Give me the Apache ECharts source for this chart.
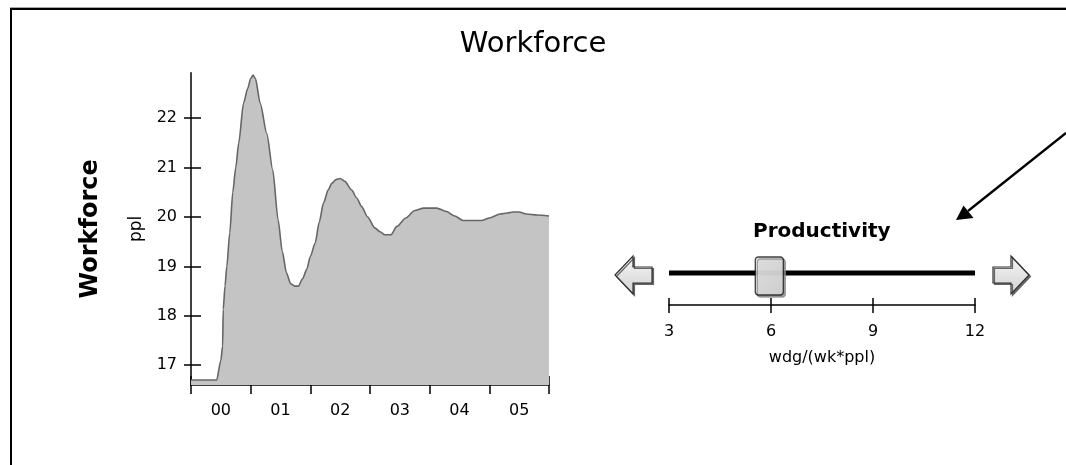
<!DOCTYPE html>
<html>
<head>
<meta charset="utf-8">
<script src="https://cdn.jsdelivr.net/npm/echarts@6.0.0/dist/echarts.min.js"></script>
<style>
  html, body { margin: 0; padding: 0; background: #fff; }
  #chart { width: 1066px; height: 465px; }
</style>
</head>
<body>
<div id="chart"></div>
<script>
// time in months (x) and workforce in people (y)
const months = [0, 0.43, 0.5, 0.53, 0.54, 0.57, 0.6, 0.65, 0.7, 0.75,
  0.8, 0.88, 0.95, 1.0, 1.04, 1.08, 1.16, 1.27, 1.37, 1.46,
  1.53, 1.6, 1.67, 1.74, 1.8, 1.87, 1.94, 2.0, 2.08, 2.15,
  2.22, 2.3, 2.36, 2.43, 2.5, 2.58, 2.69, 2.78, 2.86, 2.96,
  3.08, 3.17, 3.25, 3.35, 3.45, 3.6, 3.75, 3.9, 4.0, 4.12,
  4.28, 4.42, 4.56, 4.7, 4.87, 5.0, 5.18, 5.3, 5.4, 5.5,
  5.62, 5.8, 6.0];
const workforce = [16.70, 16.70, 17.1, 17.39, 18.13, 18.6, 19.0, 19.68, 20.5, 21.0,
  21.5, 22.3, 22.6, 22.8, 22.87, 22.8, 22.3, 21.69, 20.95, 19.94,
  19.3, 18.87, 18.65, 18.60, 18.60, 18.75, 18.94, 19.2, 19.47, 19.9,
  20.28, 20.55, 20.68, 20.76, 20.78, 20.72, 20.55, 20.38, 20.21, 20.0,
  19.78, 19.7, 19.64, 19.64, 19.81, 19.98, 20.13, 20.18, 20.18, 20.18,
  20.11, 20.02, 19.93, 19.93, 19.93, 19.98, 20.06, 20.08, 20.10, 20.10,
  20.06, 20.04, 20.02];
const periodLabels = ['00', '01', '02', '03', '04', '05'];
const yTicks = [17, 18, 19, 20, 21, 22];
// slider
const sliderTicks = [3, 6, 9, 12];
const productivity = 5.95;

const FONT = 'DejaVu Sans';
const chart = echarts.init(document.getElementById('chart'));

const arrowFill = new echarts.graphic.LinearGradient(0, 0, 0, 1, [
  { offset: 0, color: '#f6f6f6' },
  { offset: 1, color: '#d2d2d2' }
]);
const arrowStyle = {
  fill: arrowFill, stroke: '#333', lineWidth: 1.2,
  shadowColor: '#666', shadowOffsetX: 1.5, shadowOffsetY: 1.5, shadowBlur: 0
};

const option = {
  animation: false,
  backgroundColor: '#fff',
  title: [
    {
      text: 'Workforce', left: 'center', top: 30, padding: 0,
      textStyle: { fontFamily: FONT, fontSize: 29, fontWeight: 'normal', color: '#000' }
    },
    {
      text: 'Productivity', left: 753, top: 222, padding: 0,
      textStyle: { fontFamily: FONT, fontSize: 20, fontWeight: 'bold', color: '#000' }
    }
  ],
  grid: [
    { left: 191, top: 72.7, width: 358, height: 312.3 },
    { left: 669, top: 241, width: 306, height: 64 }
  ],
  xAxis: [
    {
      gridIndex: 0, type: 'value', position: 'bottom', min: 0, max: 6, interval: 1,
      axisLine: { onZero: false, lineStyle: { color: '#000', width: 1.5 } },
      axisTick: { length: 9, lineStyle: { color: '#000', width: 1.5 } },
      axisLabel: {
        customValues: [0.5, 1.5, 2.5, 3.5, 4.5, 5.5],
        formatter: v => periodLabels[Math.floor(v)],
        margin: 18, color: '#000', fontFamily: FONT, fontSize: 16
      },
      splitLine: { show: false }
    },
    {
      gridIndex: 0, type: 'value', position: 'bottom', min: 0, max: 6, interval: 1,
      axisLine: { show: false },
      axisTick: { inside: true, length: 9, lineStyle: { color: '#000', width: 1.5 } },
      axisLabel: { show: false },
      splitLine: { show: false }
    },
    {
      gridIndex: 1, type: 'value', position: 'bottom', min: 3, max: 12, interval: 3,
      axisLine: { onZero: false, lineStyle: { color: '#000', width: 1.5 } },
      axisTick: { length: 8, lineStyle: { color: '#000', width: 1.5 } },
      axisLabel: { margin: 19, color: '#000', fontFamily: FONT, fontSize: 16 },
      splitLine: { show: false },
      name: 'wdg/(wk*ppl)', nameLocation: 'middle', nameGap: 45,
      nameTextStyle: { color: '#000', fontFamily: FONT, fontSize: 16 }
    },
    {
      gridIndex: 1, type: 'value', position: 'bottom', min: 3, max: 12, interval: 3,
      axisLine: { show: false },
      axisTick: { inside: true, length: 7, lineStyle: { color: '#000', width: 1.5 } },
      axisLabel: { show: false },
      splitLine: { show: false }
    }
  ],
  yAxis: [
    {
      gridIndex: 0, type: 'value', position: 'left', min: 16.6, max: 22.92,
      axisLine: { show: true, onZero: false, lineStyle: { color: '#000', width: 1.5 } },
      axisTick: { show: true, customValues: yTicks, length: 7, lineStyle: { color: '#000', width: 1.5 } },
      axisLabel: { customValues: yTicks, margin: 14, color: '#000', fontFamily: FONT, fontSize: 16 },
      splitLine: { show: false },
      name: 'Workforce', nameLocation: 'middle', nameGap: 88, nameRotate: 90,
      nameTextStyle: { color: '#000', fontFamily: FONT, fontSize: 24, fontWeight: 'bold' }
    },
    {
      gridIndex: 0, type: 'value', position: 'left', min: 16.6, max: 22.92,
      axisLine: { show: false },
      axisTick: { show: true, inside: true, customValues: yTicks, length: 10, lineStyle: { color: '#000', width: 1.5 } },
      axisLabel: { show: false },
      splitLine: { show: false },
      name: 'ppl', nameLocation: 'middle', nameGap: 46, nameRotate: 90,
      nameTextStyle: { color: '#000', fontFamily: FONT, fontSize: 17 }
    },
    {
      gridIndex: 1, type: 'value', min: 0, max: 1, show: false
    }
  ],
  series: [
    {
      name: 'Workforce', type: 'line', xAxisIndex: 0, yAxisIndex: 0,
      data: months.map((m, i) => [m, workforce[i]]),
      showSymbol: false, symbol: 'none',
      smooth: 0.25, smoothMonotone: 'x',
      lineStyle: { color: '#666', width: 1.6 },
      areaStyle: { color: '#c4c4c4', opacity: 1, origin: 'start' },
      z: 1
    },
    {
      name: 'track', type: 'line', xAxisIndex: 2, yAxisIndex: 2,
      data: [[sliderTicks[0], 0.5], [sliderTicks[sliderTicks.length - 1], 0.5]],
      symbol: 'none', lineStyle: { color: '#000', width: 5 }, z: 2
    },
    {
      name: 'Productivity', type: 'scatter', xAxisIndex: 2, yAxisIndex: 2,
      data: [[productivity, 0.5]],
      symbol: 'path://M3,0 H25 A3,3 0 0 1 28,3 V35 A3,3 0 0 1 25,38 H3 A3,3 0 0 1 0,35 V3 A3,3 0 0 1 3,0 Z',
      symbolSize: [28, 38], symbolOffset: [0, 3], symbolKeepAspect: false,
      itemStyle: {
        color: new echarts.graphic.LinearGradient(0, 0, 1, 1, [
          { offset: 0, color: '#eeeeee' },
          { offset: 1, color: '#d8d8d8' }
        ]),
        borderColor: '#111', borderWidth: 1.5,
        shadowColor: '#888', shadowOffsetX: 2, shadowOffsetY: 2, shadowBlur: 0
      },
      z: 3
    }
  ],
  graphic: [
    { type: 'line', shape: { x1: 10, y1: 7.5, x2: 1066, y2: 7.5 }, style: { stroke: '#aaa', lineWidth: 1 } },
    { type: 'rect', shape: { x: 11, y: 9, width: 1200, height: 600 }, style: { fill: null, stroke: '#000', lineWidth: 2 } },
    {
      type: 'polygon',
      shape: { points: [[615, 275], [633, 256], [633, 267], [652, 267], [652, 283], [633, 283], [633, 294]] },
      style: arrowStyle
    },
    {
      type: 'polygon',
      shape: { points: [[1029, 275], [1011, 256], [1011, 267], [993, 267], [993, 283], [1011, 283], [1011, 294]] },
      style: arrowStyle
    },
    { type: 'line', shape: { x1: 1066, y1: 133, x2: 968, y2: 211 }, style: { stroke: '#000', lineWidth: 2.3 } },
    { type: 'polygon', shape: { points: [[956, 220], [973.5, 218], [963.5, 205.5]] }, style: { fill: '#000' } }
  ]
};

chart.setOption(option);
</script>
</body>
</html>
